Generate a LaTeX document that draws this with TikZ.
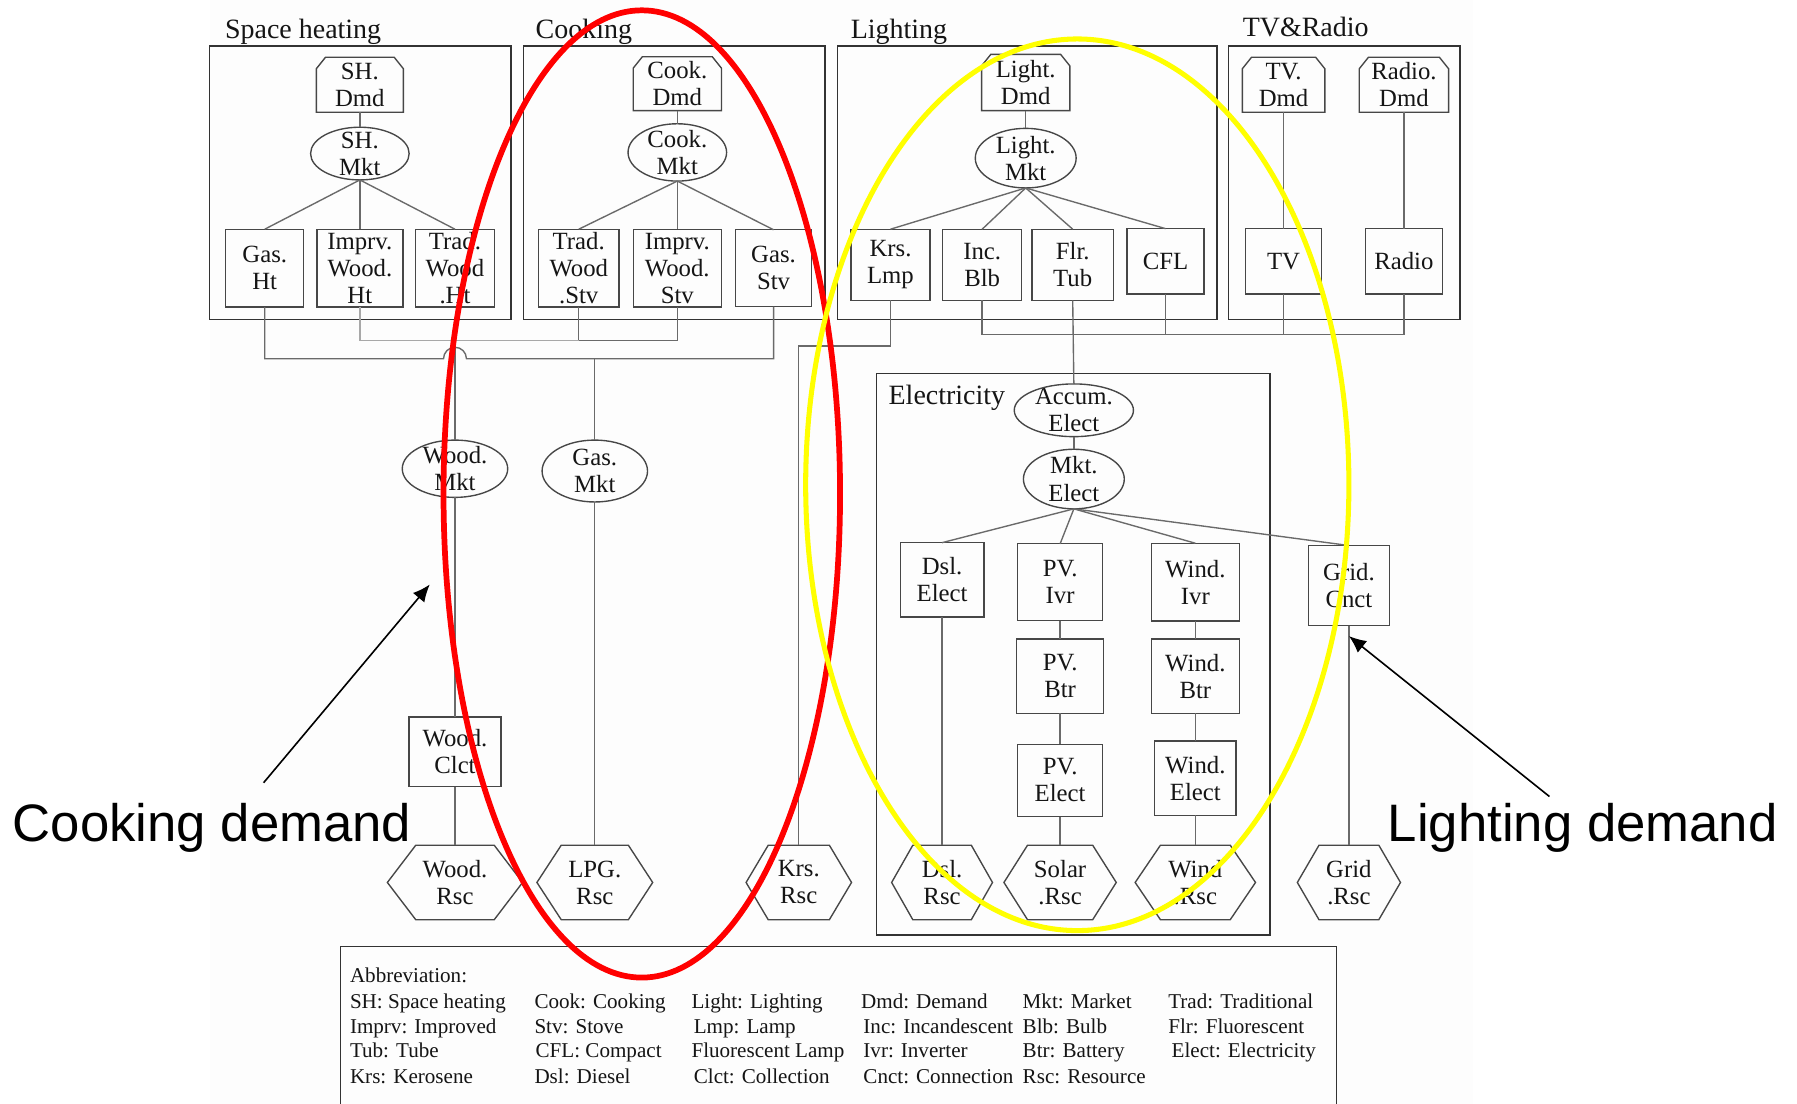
\documentclass[tikz,border=0pt]{standalone}
\usepackage{fontspec}
\setmainfont{Liberation Serif}
\newfontfamily\annfont{Liberation Sans}
\usetikzlibrary{arrows.meta,calc}
\definecolor{grpc}{HTML}{333333}
\definecolor{boxc}{HTML}{474747}
\definecolor{linec}{HTML}{6A6A6A}
\definecolor{lightlinec}{HTML}{A8A8A8}
\definecolor{txtc}{HTML}{151515}
\definecolor{bgc}{HTML}{FDFDFD}
\definecolor{redc}{HTML}{FF0000}
\definecolor{yelc}{HTML}{FFFF00}
\begin{document}
\begin{tikzpicture}[x=0.5pt,y=-0.5pt,
 nd/.style={rectangle, inner sep=0pt, outer sep=0pt, align=center, text=txtc, font=\fontsize{10.8}{11.8}\selectfont},
 bx/.style={nd, draw=boxc, line width=0.6pt},
 gh/.style={nd},
 shp/.style={draw=boxc, line width=0.6pt},
 grp/.style={draw=grpc, line width=0.6pt},
 ln/.style={draw=linec, line width=0.6pt},
 lnl/.style={draw=lightlinec, line width=0.6pt},
 ttl/.style={anchor=base west, inner sep=0pt, text=txtc, font=\fontsize{12.2}{14}\selectfont},
 leg/.style={anchor=base west, inner sep=0pt, text=txtc, font=\fontsize{9.2}{11}\selectfont},
 ann/.style={anchor=base, inner sep=0pt, text=black, font=\annfont\fontsize{23}{26}\selectfont},
 arr/.style={-{Latex[length=7.5pt,width=6.5pt]}, line width=0.7pt, draw=black},
 ring/.style={line width=2.5pt}]
\useasboundingbox (0,0) rectangle (1568,963);
\fill[white] (0,0) rectangle (1568,963);
\fill[bgc] (183,0) rectangle (1285,963);

% group frames
\draw[grp] (183,40) rectangle (446,279);
\draw[grp] (457,40) rectangle (720,279);
\draw[grp] (731,40) rectangle (1062,279);
\draw[grp] (1072,40) rectangle (1274,279);
\draw[grp] (765,326) rectangle (1108,816);
\draw[grp] (297,975) -- (297,826) -- (1166,826) -- (1166,975);

% titles
\node[ttl] (tsh) at (196,34) {Space heating};
\node[ttl] (tck) at (467,34) {Cooking};
\node[ttl] (tlt) at (742,34) {Lighting};
\node[ttl] (ttv) at (1084,32) {TV\&Radio};
\node[ttl] (tel) at (775,353) {Electricity};

% demand nodes
\node[gh, minimum width=38pt, minimum height=24pt] (shdmd) at (314,74) {SH.\\Dmd};
\node[gh, minimum width=38.5pt, minimum height=23.5pt] (cookdmd) at (591,73) {Cook.\\Dmd};
\node[gh, minimum width=38.5pt, minimum height=24.5pt] (lightdmd) at (895,72) {Light.\\Dmd};
\node[gh, minimum width=36pt, minimum height=24pt] (tvdmd) at (1120,74) {TV.\\Dmd};
\node[gh, minimum width=39pt, minimum height=24pt] (radiodmd) at (1225,74) {Radio.\\Dmd};

% market ellipses
\node[gh, minimum width=43pt, minimum height=23pt] (shmkt) at (314,134) {SH.\\Mkt};
\node[gh, minimum width=43pt, minimum height=25pt] (cookmkt) at (591,133) {Cook.\\Mkt};
\node[gh, minimum width=44pt, minimum height=26pt] (lightmkt) at (895,138) {Light.\\Mkt};
\node[gh, minimum width=46pt, minimum height=25pt] (woodmkt) at (397,409) {Wood.\\Mkt};
\node[gh, minimum width=46pt, minimum height=27pt] (gasmkt) at (519,411) {Gas.\\Mkt};
\node[gh, minimum width=52pt, minimum height=23pt] (accum) at (937,358) {Accum.\\Elect};
\node[gh, minimum width=44pt, minimum height=26pt] (mktelect) at (937,418) {Mkt.\\Elect};

% boxes
\node[bx, minimum width=34pt, minimum height=34pt] (gasht) at (231,234) {Gas.\\Ht};
\node[bx, minimum width=37.5pt, minimum height=34pt] (imprvht) at (314,234) {Imprv.\\Wood.\\Ht};
\node[bx, minimum width=34.5pt, minimum height=34pt] (tradht) at (397,234) {Trad.\\Wood\\.Ht};
\node[bx, minimum width=35pt, minimum height=34pt] (tradstv) at (505,234) {Trad.\\Wood\\.Stv};
\node[bx, minimum width=38.5pt, minimum height=34pt] (imprvstv) at (591,234) {Imprv.\\Wood.\\Stv};
\node[bx, minimum width=33pt, minimum height=33.5pt] (gasstv) at (675,234) {Gas.\\Stv};
\node[bx, minimum width=34.5pt, minimum height=31pt] (krslmp) at (777,231) {Krs.\\Lmp};
\node[bx, minimum width=34.5pt, minimum height=31pt] (incblb) at (857,231) {Inc.\\Blb};
\node[bx, minimum width=35.5pt, minimum height=31pt] (flrtub) at (936,231) {Flr.\\Tub};
\node[bx, minimum width=33.5pt, minimum height=28.5pt] (cfl) at (1017,228) {CFL};
\node[bx, minimum width=33pt, minimum height=28.5pt] (tv) at (1120,228) {TV};
\node[bx, minimum width=33.5pt, minimum height=28.5pt] (radio) at (1225,228) {Radio};
\node[bx, minimum width=40pt, minimum height=30.5pt] (woodclct) at (397,656) {Wood.\\Clct};
\node[bx, minimum width=36.5pt, minimum height=32.5pt] (dslelect) at (822,506) {Dsl.\\Elect};
\node[bx, minimum width=37pt, minimum height=33.5pt] (pvivr) at (925,508) {PV.\\Ivr};
\node[bx, minimum width=38pt, minimum height=32.5pt] (pvbtr) at (925,590) {PV.\\Btr};
\node[bx, minimum width=37pt, minimum height=31.5pt] (pvelect) at (925,681) {PV.\\Elect};
\node[bx, minimum width=38.5pt, minimum height=34pt] (windivr) at (1043,508) {Wind.\\Ivr};
\node[bx, minimum width=38.5pt, minimum height=32.5pt] (windbtr) at (1043,590) {Wind.\\Btr};
\node[bx, minimum width=35.5pt, minimum height=32.5pt] (windelect) at (1043,679) {Wind.\\Elect};
\node[bx, minimum width=35.5pt, minimum height=35pt] (gridcnct) at (1177,511) {Grid.\\Cnct};

% resource hexagons
\node[gh, minimum width=59pt, minimum height=32.5pt] (woodrsc) at (397,770) {Wood.\\Rsc};
\node[gh, minimum width=50.5pt, minimum height=32.5pt] (lpgrsc) at (519,770) {LPG.\\Rsc};
\node[gh, minimum width=46pt, minimum height=32.5pt] (krsrsc) at (697,770) {Krs.\\Rsc};
\node[gh, minimum width=44pt, minimum height=32.5pt] (dslrsc) at (822,770) {Dsl.\\Rsc};
\node[gh, minimum width=49pt, minimum height=32.5pt] (solarrsc) at (925,770) {Solar\\.Rsc};
\node[gh, minimum width=52.5pt, minimum height=32.5pt] (windrsc) at (1043,770) {Wind\\.Rsc};
\node[gh, minimum width=45pt, minimum height=32.5pt] (gridrsc) at (1177,770) {Grid\\.Rsc};

\foreach \n in {shdmd,cookdmd,lightdmd,tvdmd,radiodmd}
  \draw[shp] (\n.south west) -- ([yshift=-5pt]\n.north west) -- ([xshift=4pt]\n.north west)
    -- ([xshift=-4pt]\n.north east) -- ([yshift=-5pt]\n.north east) -- (\n.south east) -- cycle;
\foreach \n/\a/\b in {shmkt/21.5/11.5, cookmkt/21.5/12.5, lightmkt/22/13, woodmkt/23/12.5,
    gasmkt/23/13.5, accum/26/11.5, mktelect/22/13}
  \draw[shp] (\n.center) ellipse [x radius=\a pt, y radius=\b pt];
\foreach \n in {woodrsc,lpgrsc,krsrsc,dslrsc,solarrsc,windrsc,gridrsc}
  \draw[shp] (\n.west) -- ($(\n.north west)!0.21!(\n.north east)$) -- ($(\n.north east)!0.21!(\n.north west)$)
    -- (\n.east) -- ($(\n.south east)!0.21!(\n.south west)$) -- ($(\n.south west)!0.21!(\n.south east)$) -- cycle;

% connectors inside groups
\draw[ln] (shdmd.south) -- (shmkt.north);
\draw[ln] (shmkt.south) -- (gasht.north);
\draw[ln] (shmkt.south) -- (imprvht.north);
\draw[ln] (shmkt.south) -- (tradht.north);
\draw[ln] (cookdmd.south) -- (cookmkt.north);
\draw[ln] (cookmkt.south) -- (tradstv.north);
\draw[ln] (cookmkt.south) -- (imprvstv.north);
\draw[ln] (cookmkt.south) -- (gasstv.north);
\draw[ln] (lightdmd.south) -- (lightmkt.north);
\draw[ln] (lightmkt.south) -- (krslmp.north);
\draw[ln] (lightmkt.south) -- (incblb.north);
\draw[ln] (lightmkt.south) -- (flrtub.north);
\draw[ln] (lightmkt.south) -- (cfl.north);
\draw[ln] (tvdmd.south) -- (tv.north);
\draw[ln] (radiodmd.south) -- (radio.north);

% junction levels
\coordinate (j1) at (0,297);
\coordinate (j2) at (0,313);
\coordinate (j3) at (0,302);
\coordinate (j4) at (0,292);

\draw[lnl] (imprvht.south) -- (imprvht.south |- j1) -- (tradstv.south |- j1);
\draw[ln] (tradstv.south |- j1) -- (imprvstv.south |- j1) -- (imprvstv.south);
\draw[ln] (tradstv.south) -- (tradstv.south |- j1);
\draw[ln] (woodmkt.north |- j1) -- (woodmkt.north);
\draw[ln] (gasht.south) -- (gasht.south |- j2) -- ($(woodmkt.north |- j2)+(-10,0)$)
   arc[start angle=180, end angle=0, radius=5pt] -- (gasstv.south |- j2) -- (gasstv.south);
\draw[ln] (gasmkt.north |- j2) -- (gasmkt.north);
\draw[ln] (woodmkt.south) -- (woodclct.north);
\draw[ln] (woodclct.south) -- (woodrsc.north);
\draw[ln] (gasmkt.south) -- (lpgrsc.north);
\draw[ln] (krslmp.south) -- (krslmp.south |- j3) -- (krsrsc.north |- j3) -- (krsrsc.north);
\draw[ln] (incblb.south) -- (incblb.south |- j4) -- (radio.south |- j4) -- (radio.south);
\draw[ln] (cfl.south) -- (cfl.south |- j4);
\draw[ln] (tv.south) -- (tv.south |- j4);
\draw[ln] (flrtub.south) -- (accum.north);
\draw[ln] (accum.south) -- (mktelect.north);
\draw[ln] (mktelect.south) -- (dslelect.north);
\draw[ln] (mktelect.south) -- (pvivr.north);
\draw[ln] (mktelect.south) -- (windivr.north);
\draw[ln] (mktelect.south) -- (gridcnct.north);
\draw[ln] (dslelect.south) -- (dslrsc.north);
\draw[ln] (pvivr.south) -- (pvbtr.north);
\draw[ln] (pvbtr.south) -- (pvelect.north);
\draw[ln] (pvelect.south) -- (solarrsc.north);
\draw[ln] (windivr.south) -- (windbtr.north);
\draw[ln] (windbtr.south) -- (windelect.north);
\draw[ln] (windelect.south) -- (windrsc.north);
\draw[ln] (gridcnct.south) -- (gridrsc.north);

% legend
\node[leg] (lg0) at (305,857) {Abbreviation:};
\node[leg] (lg11) at (305,880) {SH: Space heating};
\node[leg] (lg12) at (466,880) {Cook: Cooking};
\node[leg] (lg13) at (603,880) {Light: Lighting};
\node[leg] (lg14) at (751,880) {Dmd: Demand};
\node[leg] (lg15) at (892,880) {Mkt: Market};
\node[leg] (lg16) at (1019,880) {Trad: Traditional};
\node[leg] (lg21) at (305,902) {Imprv: Improved};
\node[leg] (lg22) at (466,902) {Stv: Stove};
\node[leg] (lg23) at (605,902) {Lmp: Lamp};
\node[leg] (lg24) at (753,902) {Inc: Incandescent};
\node[leg] (lg25) at (892,902) {Blb: Bulb};
\node[leg] (lg26) at (1019,902) {Flr: Fluorescent};
\node[leg] (lg31) at (305,923) {Tub: Tube};
\node[leg] (lg32) at (467,923) {CFL: Compact};
\node[leg] (lg33) at (603,923) {Fluorescent Lamp};
\node[leg] (lg34) at (753,923) {Ivr: Inverter};
\node[leg] (lg35) at (892,923) {Btr: Battery};
\node[leg] (lg36) at (1022,923) {Elect: Electricity};
\node[leg] (lg41) at (305,945) {Krs: Kerosene};
\node[leg] (lg42) at (466,945) {Dsl: Diesel};
\node[leg] (lg43) at (605,945) {Clct: Collection};
\node[leg] (lg44) at (753,945) {Cnct: Connection};
\node[leg] (lg45) at (892,945) {Rsc: Resource};

% annotations
\node[ann] (cookdem) at (185,734) {Cooking demand};
\node[ann] (lightdem) at (1381,734) {Lighting demand};
\coordinate (ca1) at (230,683);
\coordinate (ca2) at (375,510);
\coordinate (la1) at (1352,695);
\draw[arr] (ca1) -- (ca2);
\draw[arr] (la1) -- ([yshift=-4.5pt]gridcnct.south);

% highlight rings
\draw[ring, draw=redc] (560,431) ellipse [x radius=86.5pt, y radius=211pt];
\draw[ring, draw=yelc, line width=2.2pt] (940,423) ellipse [x radius=118.5pt, y radius=194.5pt];
\end{tikzpicture}
\end{document}
